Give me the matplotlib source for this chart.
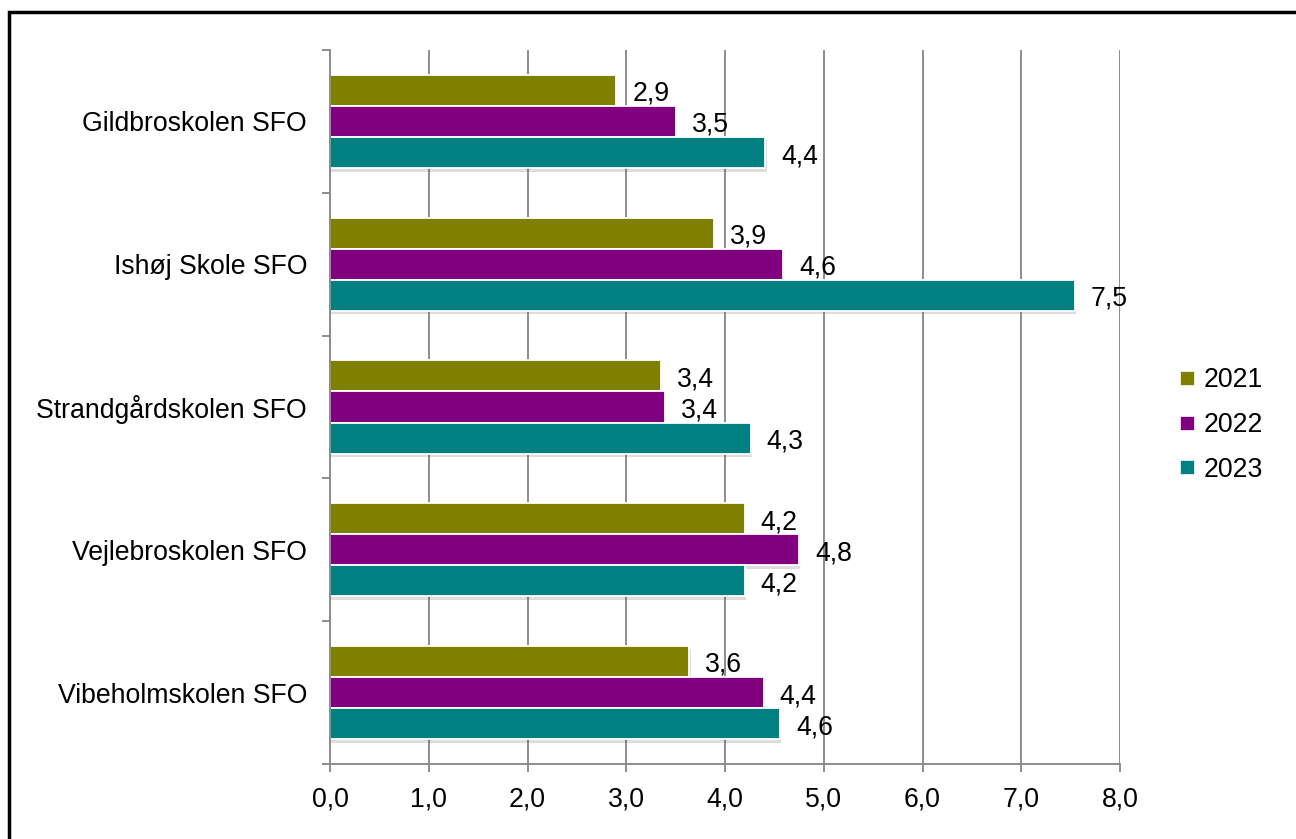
import matplotlib
matplotlib.use("Agg")
import matplotlib.pyplot as plt
import matplotlib.patheffects as pe
from matplotlib.patches import Rectangle
from matplotlib.lines import Line2D
import numpy as np

plt.rcParams['font.family'] = ['Liberation Sans', 'DejaVu Sans']

categories = ["Gildbroskolen SFO", "Ishøj Skole SFO", "Strandgårdskolen SFO",
              "Vejlebroskolen SFO", "Vibeholmskolen SFO"]
series_names = ["2021", "2022", "2023"]
values_2021 = [2.90, 3.89, 3.35, 4.20, 3.64]
values_2022 = [3.50, 4.59, 3.39, 4.75, 4.39]
values_2023 = [4.41, 7.54, 4.26, 4.20, 4.56]
series_values = [values_2021, values_2022, values_2023]
colors = ["#808000", "#800080", "#008080"]
xticks = [0, 1, 2, 3, 4, 5, 6, 7, 8]

FS = 19.2

fig = plt.figure(figsize=(12.96, 8.39), dpi=100)
ax = fig.add_axes([330/1296, 1-764/839, (1120-330)/1296, (764-50)/839])

# outer border (only top/left visible)
fig.patches.append(Rectangle((9/1296, -0.1), 1.2, 1 - 12/839 + 0.1,
                             transform=fig.transFigure, fill=False,
                             edgecolor="black", linewidth=2.5, zorder=10))

n = len(categories)
ypos = np.arange(n)
h = 0.218
gray = "#8c8c8c"

for k, (vals, col) in enumerate(zip(series_values, colors)):
    yy = ypos + (k - 1) * h
    bars = ax.barh(yy, vals, height=h, color=col, edgecolor="white",
                   linewidth=1.3, zorder=3, label=series_names[k])
    for b in bars:
        b.set_path_effects([pe.SimplePatchShadow(offset=(0.8, -2.5), alpha=0.18,
                                                 shadow_rgbFace="#444444"),
                            pe.Normal()])
    for y, v in zip(yy, vals):
        ax.annotate(f"{v:.1f}".replace(".", ","), xy=(v, y),
                    xytext=(11.5, -2.5), textcoords="offset points",
                    ha="left", va="center", fontsize=FS, color="black", zorder=5)

ax.set_xlim(0, 8)
ax.set_ylim(n - 0.5, -0.5)
ax.set_xticks(xticks)
ax.set_xticklabels([f"{t:.1f}".replace(".", ",") for t in xticks], fontsize=FS)
ax.set_yticks(ypos)
ax.set_yticklabels(categories, fontsize=FS)
ax.set_yticks(np.arange(-0.5, n, 1.0), minor=True)

ax.tick_params(axis="y", which="major", length=0, pad=16.5)
ax.tick_params(axis="y", which="minor", length=6, width=1.4, color=gray, direction="out")
ax.tick_params(axis="x", which="major", length=6, width=1.4, color=gray,
               direction="out", pad=10)

ax.grid(axis="x", color=gray, linewidth=1.4, zorder=0)
ax.set_axisbelow(True)
for s in ["top", "right"]:
    ax.spines[s].set_visible(False)
for s in ["left", "bottom"]:
    ax.spines[s].set_color(gray)
    ax.spines[s].set_linewidth(1.4)
    ax.spines[s].set_zorder(4)

handles = [Line2D([0], [0], marker="s", linestyle="none", markersize=9.5,
                  markerfacecolor=c, markeredgecolor="white", markeredgewidth=0.5)
           for c in colors]
leg = fig.legend(handles, series_names, loc="center left",
                 bbox_to_anchor=(1166/1296, 1 - 425/839), frameon=False,
                 fontsize=FS, handlelength=0.55, handletextpad=0.35,
                 labelspacing=0.7, borderpad=0)

fig.savefig("out.png", dpi=100)
